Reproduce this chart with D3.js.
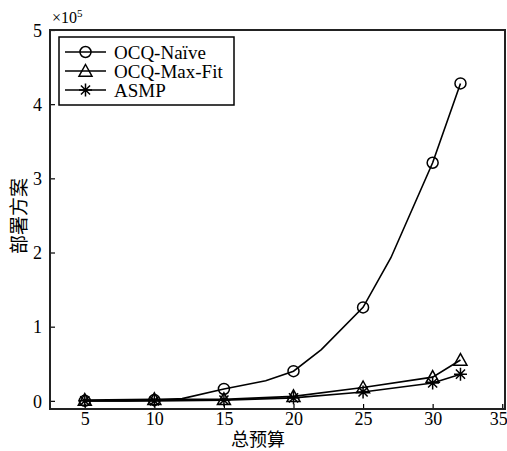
<!DOCTYPE html>
<html>
<head>
<meta charset="utf-8">
<script src="https://cdn.jsdelivr.net/npm/d3@7"></script>
<style>
  html, body { margin: 0; padding: 0; background: #fff; }
  svg { display: block; }
</style>
</head>
<body>
<svg id="chart" width="507" height="451"></svg>
<script>
// ---- data (y in units of 10^5) ----
const seriesNames = ["OCQ-Naïve", "OCQ-Max-Fit", "ASMP"];
const markerX = [5, 10, 15, 20, 25, 30, 32];
const naiveX = [5, 8, 10, 12, 15, 18, 20, 22, 25, 27, 30, 32];
const naiveY = [0.0, 0.0, 0.01, 0.03, 0.16, 0.27, 0.40, 0.69, 1.26, 1.93, 3.21, 4.28];
const maxFitX = [5, 10, 15, 20, 25, 30, 32];
const maxFitY = [0.01, 0.02, 0.02, 0.06, 0.18, 0.32, 0.55];
const asmpX = [5, 10, 15, 20, 25, 30, 32];
const asmpY = [0.0, 0.0, 0.01, 0.04, 0.12, 0.24, 0.36];
const xTicks = [5, 10, 15, 20, 25, 30, 35];
const yTicks = [0, 1, 2, 3, 4, 5];
const xLabel = "总预算";
const yLabel = "部署方案";

const svg = d3.select("#chart");
const L = 50, R = 505, T = 30, B = 409;
const x = d3.scaleLinear().domain([2.5, 35.2]).range([L, R]);
const y = d3.scaleLinear().domain([-0.11, 5]).range([B, T]);
const serif = "'Liberation Serif', 'Times New Roman', serif";
const cjk = "'Noto Sans CJK SC', sans-serif";

// axes (ticks inside)
const xAxis = d3.axisBottom(x).tickValues(xTicks).tickSize(-5).tickPadding(3).tickFormat(d3.format("d"));
const gx = svg.append("g").attr("transform", `translate(0,${B})`).call(xAxis);
const yAxis = d3.axisLeft(y).tickValues(yTicks).tickSize(-5).tickPadding(8).tickFormat(d3.format("d"));
const gy = svg.append("g").attr("transform", `translate(${L},0)`).call(yAxis);
[gx, gy].forEach(g => {
  g.select(".domain").remove();
  g.selectAll(".tick line").attr("stroke", "#000").attr("stroke-width", 1.2);
  g.selectAll(".tick text").attr("fill", "#000").style("font-family", serif).style("font-size", "18px");
});
gy.selectAll(".tick text").attr("dy", "0.35em");
gx.selectAll(".tick text").attr("dy", "0.71em");
gx.selectAll(".tick").filter(d => d === 35).select("text").attr("text-anchor", "end").attr("x", 5);

// frame
svg.append("rect").attr("x", L).attr("y", T).attr("width", R - L).attr("height", B - T)
  .attr("fill", "none").attr("stroke", "#222").attr("stroke-width", 2);

// exponent label
const ex = svg.append("text").attr("x", 52).attr("y", 23).style("font-family", serif).style("font-size", "16px").attr("fill", "#000");
ex.append("tspan").text("×10");
ex.append("tspan").text("5").attr("dy", -6).style("font-size", "11px");

// axis labels
svg.append("text").attr("x", 258).attr("y", 446).attr("text-anchor", "middle")
  .style("font-family", cjk).style("font-size", "18px").attr("fill", "#000").text(xLabel);
svg.append("text").attr("transform", "translate(26,216) rotate(-90)").attr("text-anchor", "middle")
  .style("font-family", cjk).style("font-size", "19px").attr("fill", "#000").text(yLabel);

// markers
function drawMarker(g, type, cx, cy) {
  if (type === "circle") {
    g.append("circle").attr("cx", cx).attr("cy", cy).attr("r", 5.5)
      .attr("fill", "none").attr("stroke", "#000").attr("stroke-width", 1.5);
  } else if (type === "triangle") {
    const s = 6.5;
    g.append("path").attr("d", `M${cx},${cy - s} L${cx + s},${cy + s * 0.8} L${cx - s},${cy + s * 0.8} Z`)
      .attr("fill", "none").attr("stroke", "#000").attr("stroke-width", 1.5);
  } else {
    const s = 6.5, d = s * 0.7;
    g.append("path").attr("d",
      `M${cx},${cy - s}L${cx},${cy + s}M${cx - s},${cy}L${cx + s},${cy}M${cx - d},${cy - d}L${cx + d},${cy + d}M${cx - d},${cy + d}L${cx + d},${cy - d}`)
      .attr("fill", "none").attr("stroke", "#000").attr("stroke-width", 1.5);
  }
}

const line = d3.line().x(d => x(d[0])).y(d => y(d[1]));
const series = [
  { name: seriesNames[0], xs: naiveX, ys: naiveY, m: "circle" },
  { name: seriesNames[1], xs: maxFitX, ys: maxFitY, m: "triangle" },
  { name: seriesNames[2], xs: asmpX, ys: asmpY, m: "star" }
];
const plot = svg.append("g");
series.forEach(s => {
  const pts = s.xs.map((xx, i) => [xx, s.ys[i]]);
  plot.append("path").attr("d", line(pts)).attr("fill", "none").attr("stroke", "#000").attr("stroke-width", 1.6);
  pts.filter(p => markerX.includes(p[0])).forEach(p => drawMarker(plot, s.m, x(p[0]), y(p[1])));
});

// legend
const lg = svg.append("g");
lg.append("rect").attr("x", 59).attr("y", 37).attr("width", 175).attr("height", 68)
  .attr("fill", "#fff").attr("stroke", "#000").attr("stroke-width", 1.5);
series.forEach((s, i) => {
  const cy = 52 + i * 19;
  lg.append("line").attr("x1", 65).attr("x2", 106).attr("y1", cy).attr("y2", cy).attr("stroke", "#000").attr("stroke-width", 1.6);
  drawMarker(lg, s.m, 85.5, cy);
  lg.append("text").attr("x", 114).attr("y", cy).attr("dy", "0.35em")
    .style("font-family", serif).style("font-size", "19px").attr("fill", "#000").text(s.name);
});
</script>
</body>
</html>
